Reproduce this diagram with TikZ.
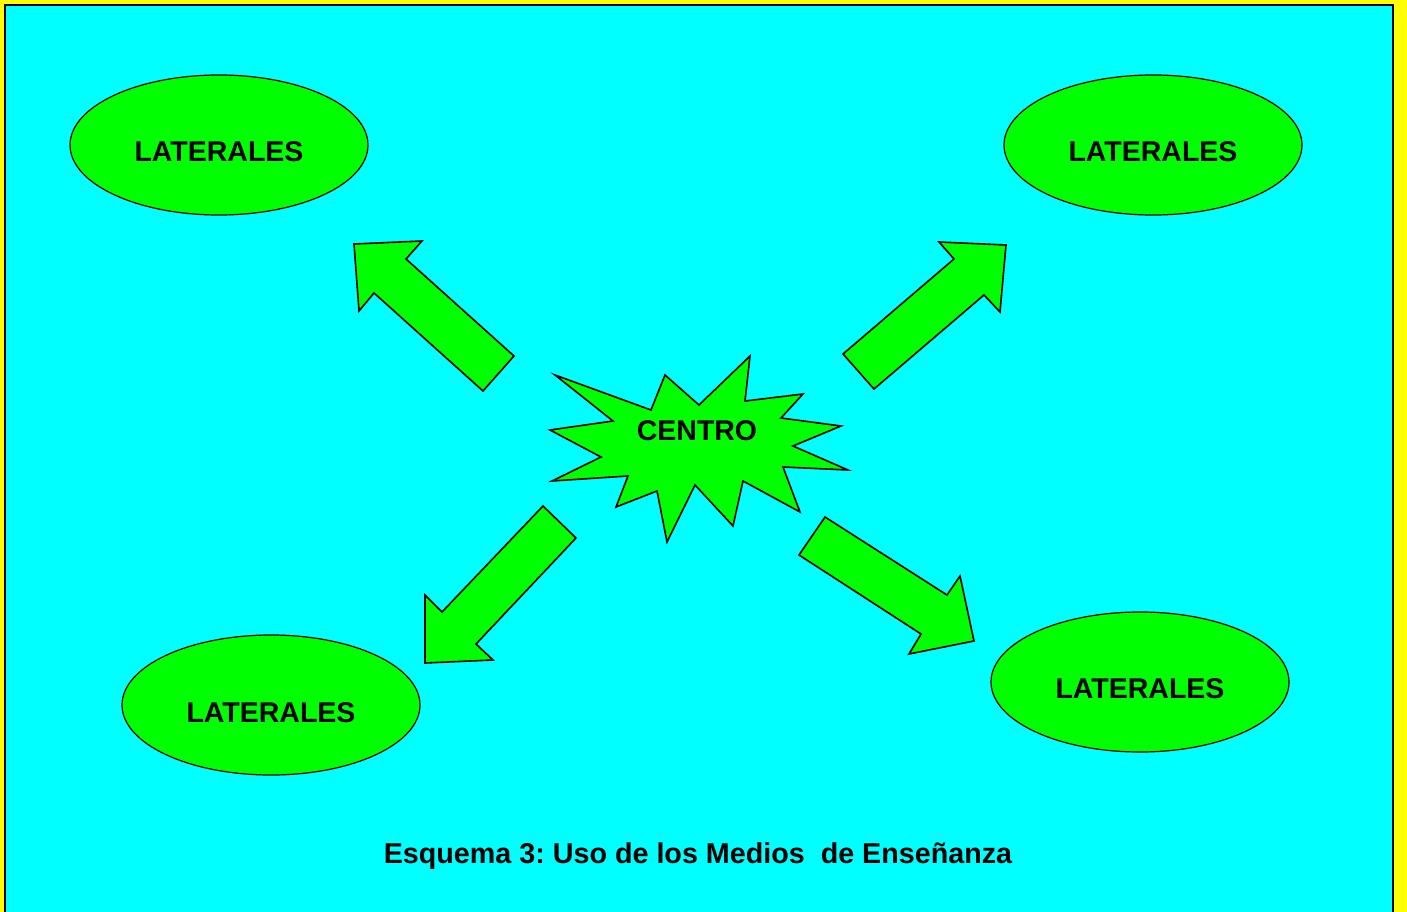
\documentclass[tikz,border=0pt]{standalone}
\usepackage{fontspec}
\setmainfont{Liberation Sans}
\usetikzlibrary{shapes.geometric}
\definecolor{bgyellow}{RGB}{255,255,0}
\definecolor{bgcyan}{RGB}{0,255,255}
\definecolor{lime}{RGB}{0,255,0}
\frenchspacing
\tikzset{
  oval/.style={ellipse, draw=black, line width=1.2pt, fill=lime, minimum width=298pt, minimum height=140pt, inner sep=0pt},
  lbl/.style={font=\fontsize{28.5}{30}\selectfont\bfseries, text=black, inner sep=0pt},
  blockarrow/.style={draw=black, line width=1.6pt, fill=lime, line join=miter},
  burst/.style={draw=black, line width=1.6pt, fill=lime, line join=miter}
}
\begin{document}
\begin{tikzpicture}[x=1pt,y=-1pt]
\useasboundingbox (0,0) rectangle (1407,912);
\fill[bgyellow] (0,0) rectangle (1407,912);
\begin{scope}
\clip (0,0) rectangle (1407,912);
\draw[fill=bgcyan, line width=2pt] (5,5) rectangle (1393,940);
\end{scope}
% ellipses
\node[oval] (tl) at (219,145) {};
\node[oval] (tr) at (1153,145) {};
\node[oval] (bl) at (271,705) {};
\node[oval] (br) at (1140,682) {};
\node[lbl] (tlt) at (219,152) {LATERALES};
\node[lbl] (trt) at (1153,152) {LATERALES};
\node[lbl] (blt) at (271,713) {LATERALES};
\node[lbl] (brt) at (1140,689) {LATERALES};
% arrows
\draw[blockarrow] (354,244) -- (422,241) -- (406,259) -- (514,356) -- (483,391) -- (374,293) -- (359,311) -- cycle;
\draw[blockarrow] (1006,245) -- (1000,312) -- (984,295) -- (874,389) -- (843,354) -- (954,259) -- (939,242) -- cycle;
\draw[blockarrow] (425,663) -- (425,595) -- (442,612) -- (543,506) -- (576,538) -- (476,644) -- (493,660) -- cycle;
\draw[blockarrow] (974,641) -- (909,654) -- (921,634) -- (799,555) -- (825,517) -- (947,595) -- (960,576) -- cycle;
% star
\draw[burst] (555,375) -- (651,410) -- (665,375) -- (699,405) -- (750,356) -- (745,401) -- (803,394) -- (781,418) -- (841,426) -- (793,446) -- (848,470) -- (783,467) -- (800,512) -- (743,481) -- (733,526) -- (695,485) -- (667,542) -- (657,491) -- (616,507) -- (628,476) -- (552,481) -- (601,457) -- (550,430) -- (613,421) -- cycle;
\node[lbl] (centro) at (697,431) {CENTRO};
% caption
\node[lbl, font=\fontsize{28.7}{30}\selectfont\bfseries] (caption) at (698,856) {Esquema 3: Uso de los Medios\ \ de Enseñanza};
\end{tikzpicture}
\end{document}
